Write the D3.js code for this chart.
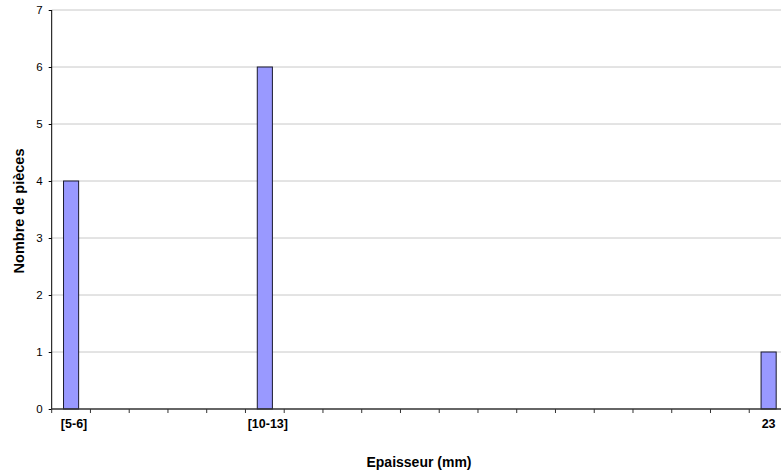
<!DOCTYPE html>
<html><head><meta charset="utf-8">
<script src="https://cdn.jsdelivr.net/npm/d3@7"></script>
<style>body{margin:0;background:#fff}svg{display:block;font-family:"Liberation Sans",Arial,sans-serif}</style>
</head><body><svg id="c" width="781" height="472"></svg>
<script>
const categories = ["[5-6]","c7","c8","c9","c10","[10-13]","c14","c15","c16","c17","c18","c19","c20","c21","c22","c23","c24","c25","23"];
const labels = ["[5-6]","","","","","[10-13]","","","","","","","","","","","","","23"];
const values = [4,0,0,0,0,6,0,0,0,0,0,0,0,0,0,0,0,0,1];
const yTicks = [0,1,2,3,4,5,6,7];

(function(){
const svg = d3.select("#c");
const pL = 51.7, pR = 788, pT = 10, pB = 409;
const x = d3.scaleBand().domain(categories).range([pL, pR]).paddingInner(0).paddingOuter(0);
const y = d3.scaleLinear().domain([0,7]).range([pB, pT]);

// gridlines
svg.append("g").selectAll("line").data(yTicks.filter(d=>d>0)).join("line")
  .attr("x1", pL).attr("x2", pR).attr("y1", d=>y(d)).attr("y2", d=>y(d))
  .attr("stroke", "#c8c8c8").attr("stroke-width", 1);

// bars
const bw = x.bandwidth()*0.39;
svg.append("g").selectAll("rect").data(values.map((v,i)=>({c:categories[i],v})).filter(d=>d.v>0)).join("rect")
  .attr("x", d=>x(d.c)+x.bandwidth()/2-bw/2).attr("width", bw)
  .attr("y", d=>y(d.v)).attr("height", d=>y(0)-y(d.v))
  .attr("fill", "#9999ff").attr("stroke", "#1a1a2e").attr("stroke-width", 1);

// y axis
const ya = svg.append("g").attr("transform", `translate(${pL},0)`)
  .call(d3.axisLeft(y).tickValues(yTicks).tickSize(3).tickPadding(6).tickFormat(d3.format("d")));
ya.select(".domain").attr("stroke", "#000").attr("d", `M0,${pT}V${pB}`);
ya.selectAll(".tick line").attr("stroke", "#000");
ya.selectAll("text").attr("font-size", 11.5).attr("font-family", "Liberation Sans, Arial").attr("fill", "#000");

// x axis
const xa = svg.append("g").attr("transform", `translate(0,${pB})`);
xa.append("line").attr("x1", pL).attr("x2", pR).attr("y1", 0).attr("y2", 0).attr("stroke", "#333").attr("stroke-width", 1.3);
const bounds = d3.range(categories.length+1).map(i => pL + i*x.step());
xa.selectAll(".tk").data(bounds).join("line").attr("class","tk")
  .attr("x1", d=>d).attr("x2", d=>d).attr("y1", 0).attr("y2", 4).attr("stroke", "#333");
xa.selectAll(".lb").data(categories.map((c,i)=>({c,l:labels[i]})).filter(d=>d.l)).join("text").attr("class","lb")
  .attr("x", d=>x(d.c)+x.bandwidth()/2+ (d.l==="[5-6]"?3:(d.l==="[10-13]"?3:0))).attr("y", 18.5)
  .attr("text-anchor", "middle").attr("font-size", 12.5).attr("font-weight", "bold").attr("fill", "#000")
  .text(d=>d.l);

// titles
svg.append("text").attr("x", 419).attr("y", 467).attr("text-anchor", "middle")
  .attr("font-size", 14).attr("font-weight", "bold").text("Epaisseur (mm)");
svg.append("text").attr("transform", "translate(24,211) rotate(-90)").attr("text-anchor", "middle")
  .attr("font-size", 14.5).attr("font-weight", "bold").text("Nombre de pièces");
})();
</script></body></html>
